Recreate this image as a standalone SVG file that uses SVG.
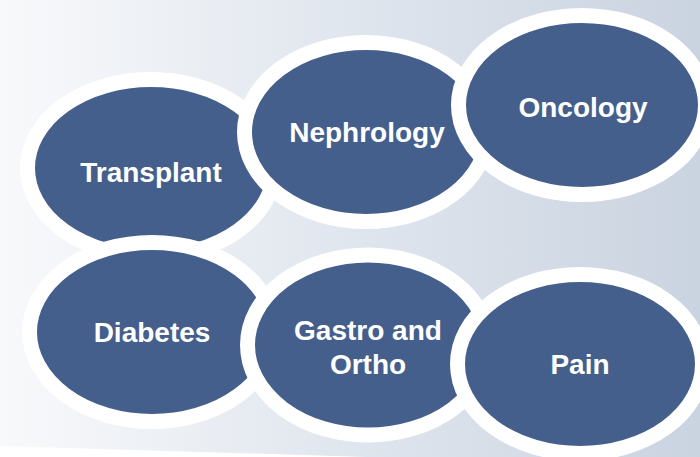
<svg xmlns="http://www.w3.org/2000/svg" width="700" height="457" viewBox="0 0 700 457">
<defs>
<linearGradient id="bg" x1="0" y1="0" x2="1" y2="0">
<stop offset="0" stop-color="#f8f9fb"/>
<stop offset="0.5" stop-color="#e0e6ee"/>
<stop offset="1" stop-color="#cad3e0"/>
</linearGradient>
</defs>
<style>
.node ellipse{fill:#455f8c;stroke:#ffffff;stroke-width:15}
.node text{font-family:"Liberation Sans",Arial,sans-serif;font-weight:bold;font-size:28px;fill:#ffffff;text-anchor:middle}
</style>
<rect width="700" height="457" fill="url(#bg)"/>
<polygon points="0,446 400,458 0,458" fill="#ffffff"/>
<g id="connectors"></g>
<g id="transplant" class="node"><ellipse cx="151" cy="168" rx="123.5" ry="88.5"/><text x="151" y="182">Transplant</text></g>
<g id="nephrology" class="node"><ellipse cx="366" cy="132" rx="121.5" ry="89.5"/><text x="367" y="142">Nephrology</text></g>
<g id="oncology" class="node"><ellipse cx="582" cy="105" rx="123.5" ry="89.5"/><text x="583" y="117">Oncology</text></g>
<g id="diabetes" class="node"><ellipse cx="152" cy="332" rx="122.5" ry="89.5"/><text x="152" y="342">Diabetes</text></g>
<g id="gastro" class="node"><ellipse cx="368" cy="345" rx="120.5" ry="90"/><text x="368" y="340">Gastro and</text><text x="368" y="374">Ortho</text></g>
<g id="pain" class="node"><ellipse cx="580" cy="364" rx="122.5" ry="89.5"/><text x="580" y="374">Pain</text></g>
</svg>
